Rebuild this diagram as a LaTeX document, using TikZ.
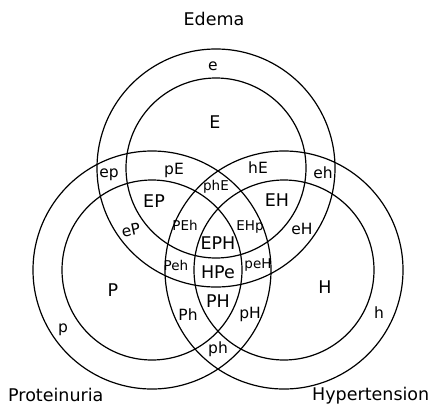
\documentclass[tikz,border=0pt]{standalone}
\usepackage{fontspec}
\setmainfont{DejaVu Sans}
\begin{document}
\begin{tikzpicture}[x=1pt,y=-1pt,
  ring/.style={draw, circle, line width=1.2pt, inner sep=0pt, outer sep=0pt},
  outerring/.style={ring, minimum size=238pt},
  innerring/.style={ring, minimum size=180pt},
  big/.style={font=\fontsize{17.5}{18}\selectfont, inner sep=0pt, anchor=base},
  mid/.style={font=\fontsize{15.5}{16}\selectfont, inner sep=0pt, anchor=base},
  sml/.style={font=\fontsize{13.5}{14}\selectfont, inner sep=0pt, anchor=base}]
\useasboundingbox (0,0) rectangle (434,407);
% circles
\node[outerring] (Eo) at (216,168) {};
\node[innerring] (Ei) at (216,168) {};
\node[outerring] (Po) at (152,270) {};
\node[innerring] (Pi) at (152,270) {};
\node[outerring] (Ho) at (284,270) {};
\node[innerring] (Hi) at (284,270) {};
% titles
\node[big] (tE) at (214,25) {Edema};
\node[big, anchor=base west] (tP) at (8,401) {Proteinuria};
\node[big, anchor=base west] (tH) at (312,400) {Hypertension};
% region labels
\node[mid] (le) at (213,70) {e};
\node[big] (lE) at (215,128) {E};
\node[mid] (lep) at (109,177) {ep};
\node[mid] (lpE) at (174,174) {pE};
\node[mid] (lhE) at (258,173) {hE};
\node[mid] (leh) at (323,178) {eh};
\node[sml] (lphE) at (216,190) {phE};
\node[big] (lEP) at (154,207) {EP};
\node[big] (lEH) at (277,206) {EH};
\node[mid, rotate=12] (leP) at (132,236) {eP};
\node[mid] (leH) at (302,234) {eH};
\node[sml] (lPEh) at (185,230) {PEh};
\node[sml] (lEHp) at (250,230) {EHp};
\node[big] (lEPH) at (218,249) {EPH};
\node[sml] (lPeh) at (176,270) {Peh};
\node[sml] (lpeH) at (258,268) {peH};
\node[big] (lHPe) at (218,278) {HPe};
\node[big] (lPH) at (218,307) {PH};
\node[mid] (lPh) at (188,320) {Ph};
\node[mid] (lpH) at (250,318) {pH};
\node[mid] (lph) at (218,353) {ph};
\node[big] (lP) at (113,296) {P};
\node[mid] (lp) at (63,332) {p};
\node[big] (lH) at (325,293) {H};
\node[mid] (lh) at (379,318) {h};
\end{tikzpicture}
\end{document}
